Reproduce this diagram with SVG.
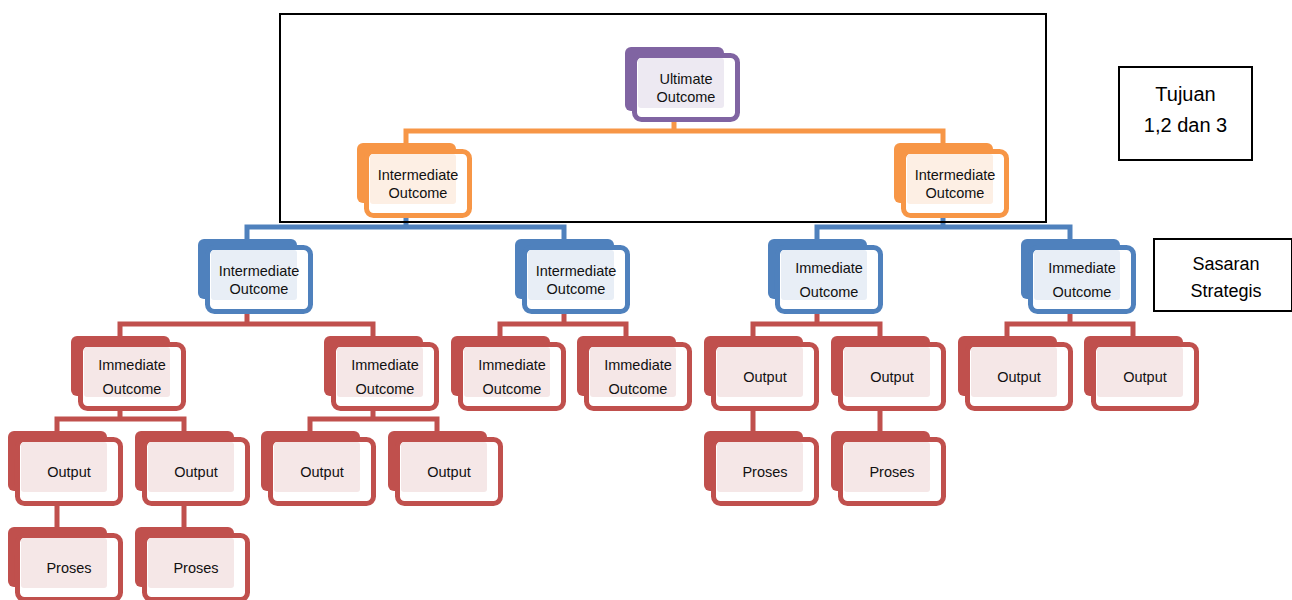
<svg xmlns="http://www.w3.org/2000/svg" width="1292" height="600" viewBox="0 0 1292 600">
<style>
.back{stroke:none}
.frame{fill:#fff;stroke-width:5}
.tint{stroke:none}
.purple .back{fill:#8064A2}.purple .frame{stroke:#8064A2}.purple .tint{fill:#EDE9F2}
.orange .back{fill:#F79646}.orange .frame{stroke:#F79646}.orange .tint{fill:#FDEFE4}
.blue .back{fill:#4F81BD}.blue .frame{stroke:#4F81BD}.blue .tint{fill:#E8EEF6}
.red .back{fill:#C0504D}.red .frame{stroke:#C0504D}.red .tint{fill:#F5E7E7}
.lbl{font-family:"Liberation Sans",Arial,sans-serif;font-size:14.5px;fill:#111;text-anchor:middle}
.big{font-family:"Liberation Sans",Arial,sans-serif;fill:#000;text-anchor:middle}
.con{fill:none;stroke-width:5}
.box{fill:none;stroke:#000;stroke-width:2}
</style>
<g id="connectors">
<path class="con" stroke="#F79646" d="M674,122V131M406,143V131H943V143"/>
<path class="con" stroke="#4F81BD" d="M406,218V227M247,239V227H564V239M943,218V227M817,239V227H1070V239"/>
<path class="con" stroke="#C0504D" d="M247,314V324M120,336V324H373V336M564,314V324M500,336V324H626V336M817,314V324M753,336V324H880V336M1070,314V324M1007,336V324H1133V336"/>
<path class="con" stroke="#C0504D" d="M120,411V419M57,431V419H184V431M373,411V419M310,431V419H437V431M753,411V431M880,411V431M57,506V527M184,506V527"/>
</g>
<g id="n-ultimate" class="purple" transform="translate(625,47)"><rect class="back" width="99" height="64" rx="6"/><rect class="frame" x="9.5" y="8.5" width="103" height="64" rx="7"/><rect class="tint" x="13" y="11" width="86" height="50" rx="3"/><text class="lbl" x="61" y="36.5">Ultimate</text><text class="lbl" x="61" y="54.5">Outcome</text></g>
<g id="n-int1" class="orange" transform="translate(357,143)"><rect class="back" width="99" height="60" rx="6"/><rect class="frame" x="9.5" y="8.5" width="103" height="64" rx="7"/><rect class="tint" x="13" y="11" width="86" height="50" rx="3"/><text class="lbl" x="61" y="36.5">Intermediate</text><text class="lbl" x="61" y="54.5">Outcome</text></g>
<g id="n-int2" class="orange" transform="translate(894,143)"><rect class="back" width="99" height="60" rx="6"/><rect class="frame" x="9.5" y="8.5" width="103" height="64" rx="7"/><rect class="tint" x="13" y="11" width="86" height="50" rx="3"/><text class="lbl" x="61" y="36.5">Intermediate</text><text class="lbl" x="61" y="54.5">Outcome</text></g>
<g id="n-int3" class="blue" transform="translate(198,239)"><rect class="back" width="99" height="60" rx="6"/><rect class="frame" x="9.5" y="8.5" width="103" height="64" rx="7"/><rect class="tint" x="13" y="11" width="86" height="50" rx="3"/><text class="lbl" x="61" y="36.5">Intermediate</text><text class="lbl" x="61" y="54.5">Outcome</text></g>
<g id="n-int4" class="blue" transform="translate(515,239)"><rect class="back" width="99" height="60" rx="6"/><rect class="frame" x="9.5" y="8.5" width="103" height="64" rx="7"/><rect class="tint" x="13" y="11" width="86" height="50" rx="3"/><text class="lbl" x="61" y="36.5">Intermediate</text><text class="lbl" x="61" y="54.5">Outcome</text></g>
<g id="n-imm1" class="blue" transform="translate(768,239)"><rect class="back" width="99" height="60" rx="6"/><rect class="frame" x="9.5" y="8.5" width="103" height="64" rx="7"/><rect class="tint" x="13" y="11" width="86" height="50" rx="3"/><text class="lbl" x="61" y="33.5">Immediate</text><text class="lbl" x="61" y="57.5">Outcome</text></g>
<g id="n-imm2" class="blue" transform="translate(1021,239)"><rect class="back" width="99" height="60" rx="6"/><rect class="frame" x="9.5" y="8.5" width="103" height="64" rx="7"/><rect class="tint" x="13" y="11" width="86" height="50" rx="3"/><text class="lbl" x="61" y="33.5">Immediate</text><text class="lbl" x="61" y="57.5">Outcome</text></g>
<g id="n-imm3" class="red" transform="translate(71,336)"><rect class="back" width="99" height="60" rx="6"/><rect class="frame" x="9.5" y="8.5" width="103" height="64" rx="7"/><rect class="tint" x="13" y="11" width="86" height="50" rx="3"/><text class="lbl" x="61" y="33.5">Immediate</text><text class="lbl" x="61" y="57.5">Outcome</text></g>
<g id="n-imm4" class="red" transform="translate(324,336)"><rect class="back" width="99" height="60" rx="6"/><rect class="frame" x="9.5" y="8.5" width="103" height="64" rx="7"/><rect class="tint" x="13" y="11" width="86" height="50" rx="3"/><text class="lbl" x="61" y="33.5">Immediate</text><text class="lbl" x="61" y="57.5">Outcome</text></g>
<g id="n-imm5" class="red" transform="translate(451,336)"><rect class="back" width="99" height="60" rx="6"/><rect class="frame" x="9.5" y="8.5" width="103" height="64" rx="7"/><rect class="tint" x="13" y="11" width="86" height="50" rx="3"/><text class="lbl" x="61" y="33.5">Immediate</text><text class="lbl" x="61" y="57.5">Outcome</text></g>
<g id="n-imm6" class="red" transform="translate(577,336)"><rect class="back" width="99" height="60" rx="6"/><rect class="frame" x="9.5" y="8.5" width="103" height="64" rx="7"/><rect class="tint" x="13" y="11" width="86" height="50" rx="3"/><text class="lbl" x="61" y="33.5">Immediate</text><text class="lbl" x="61" y="57.5">Outcome</text></g>
<g id="n-out1" class="red" transform="translate(704,336)"><rect class="back" width="99" height="60" rx="6"/><rect class="frame" x="9.5" y="8.5" width="103" height="64" rx="7"/><rect class="tint" x="13" y="11" width="86" height="50" rx="3"/><text class="lbl" x="61" y="45.5">Output</text></g>
<g id="n-out2" class="red" transform="translate(831,336)"><rect class="back" width="99" height="60" rx="6"/><rect class="frame" x="9.5" y="8.5" width="103" height="64" rx="7"/><rect class="tint" x="13" y="11" width="86" height="50" rx="3"/><text class="lbl" x="61" y="45.5">Output</text></g>
<g id="n-out3" class="red" transform="translate(958,336)"><rect class="back" width="99" height="60" rx="6"/><rect class="frame" x="9.5" y="8.5" width="103" height="64" rx="7"/><rect class="tint" x="13" y="11" width="86" height="50" rx="3"/><text class="lbl" x="61" y="45.5">Output</text></g>
<g id="n-out4" class="red" transform="translate(1084,336)"><rect class="back" width="99" height="60" rx="6"/><rect class="frame" x="9.5" y="8.5" width="103" height="64" rx="7"/><rect class="tint" x="13" y="11" width="86" height="50" rx="3"/><text class="lbl" x="61" y="45.5">Output</text></g>
<g id="n-out5" class="red" transform="translate(8,431)"><rect class="back" width="99" height="60" rx="6"/><rect class="frame" x="9.5" y="8.5" width="103" height="64" rx="7"/><rect class="tint" x="13" y="11" width="86" height="50" rx="3"/><text class="lbl" x="61" y="45.5">Output</text></g>
<g id="n-out6" class="red" transform="translate(135,431)"><rect class="back" width="99" height="60" rx="6"/><rect class="frame" x="9.5" y="8.5" width="103" height="64" rx="7"/><rect class="tint" x="13" y="11" width="86" height="50" rx="3"/><text class="lbl" x="61" y="45.5">Output</text></g>
<g id="n-out7" class="red" transform="translate(261,431)"><rect class="back" width="99" height="60" rx="6"/><rect class="frame" x="9.5" y="8.5" width="103" height="64" rx="7"/><rect class="tint" x="13" y="11" width="86" height="50" rx="3"/><text class="lbl" x="61" y="45.5">Output</text></g>
<g id="n-out8" class="red" transform="translate(388,431)"><rect class="back" width="99" height="60" rx="6"/><rect class="frame" x="9.5" y="8.5" width="103" height="64" rx="7"/><rect class="tint" x="13" y="11" width="86" height="50" rx="3"/><text class="lbl" x="61" y="45.5">Output</text></g>
<g id="n-pro1" class="red" transform="translate(704,431)"><rect class="back" width="99" height="60" rx="6"/><rect class="frame" x="9.5" y="8.5" width="103" height="64" rx="7"/><rect class="tint" x="13" y="11" width="86" height="50" rx="3"/><text class="lbl" x="61" y="45.5">Proses</text></g>
<g id="n-pro2" class="red" transform="translate(831,431)"><rect class="back" width="99" height="60" rx="6"/><rect class="frame" x="9.5" y="8.5" width="103" height="64" rx="7"/><rect class="tint" x="13" y="11" width="86" height="50" rx="3"/><text class="lbl" x="61" y="45.5">Proses</text></g>
<g id="n-pro3" class="red" transform="translate(8,527)"><rect class="back" width="99" height="60" rx="6"/><rect class="frame" x="9.5" y="8.5" width="103" height="64" rx="7"/><rect class="tint" x="13" y="11" width="86" height="50" rx="3"/><text class="lbl" x="61" y="45.5">Proses</text></g>
<g id="n-pro4" class="red" transform="translate(135,527)"><rect class="back" width="99" height="60" rx="6"/><rect class="frame" x="9.5" y="8.5" width="103" height="64" rx="7"/><rect class="tint" x="13" y="11" width="86" height="50" rx="3"/><text class="lbl" x="61" y="45.5">Proses</text></g>
<g id="frame-main"><rect class="box" x="280" y="14" width="766" height="208"/></g>
<g id="n-tujuan"><rect class="box" x="1119" y="67" width="133" height="93"/><text class="big" font-size="20" x="1185.5" y="101">Tujuan</text><text class="big" font-size="20" x="1185.5" y="132">1,2 dan 3</text></g>
<g id="n-sasaran"><rect class="box" x="1154" y="239" width="138" height="72"/><text class="big" font-size="18" x="1226" y="270">Sasaran</text><text class="big" font-size="18" x="1226" y="297">Strategis</text></g>
</svg>
